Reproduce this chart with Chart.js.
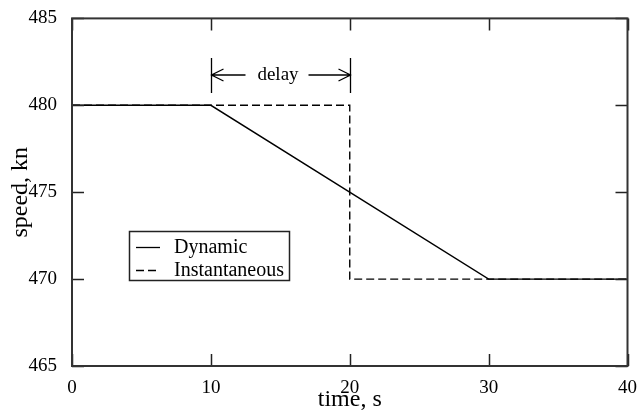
<!DOCTYPE html>
<html>
<head>
  <title>Speed response</title>
  <script src="https://cdn.jsdelivr.net/npm/chart.js"></script>
  <style>
    body { margin: 0; background: #fff; }
  </style>
</head>
<body>
  <div style="width: 640px; height: 414px;">
    <canvas id="speedChart"></canvas>
  </div>

  <script>
    // data
    const dynamicTime = [0, 10, 30, 40];
    const dynamicSpeed = [480, 480, 470, 470];
    const instantTime = [0, 20, 20, 40];
    const instantSpeed = [480, 480, 470, 470];
    const seriesNames = ['Dynamic', 'Instantaneous'];
    const xTicks = [0, 10, 20, 30, 40];
    const yTicks = [465, 470, 475, 480, 485];
    const delayStart = 10;
    const delayEnd = 20;
    const delayText = 'delay';

    const serif = 'Liberation Serif';

    const toPoints = (xs, ys) => xs.map((x, i) => ({ x: x, y: ys[i] }));

    // frame, inward ticks, delay marker and legend box
    const decorations = {
      id: 'decorations',
      afterDatasetsDraw(chart) {
        const ctx = chart.ctx;
        const a = chart.chartArea;
        const xs = chart.scales.x;
        const ys = chart.scales.y;
        ctx.save();

        // ticks on all four sides, pointing in
        ctx.strokeStyle = '#222';
        ctx.lineWidth = 1.5;
        ctx.beginPath();
        xTicks.forEach(v => {
          const px = Math.round(xs.getPixelForValue(v)) + 0.5;
          ctx.moveTo(px, a.bottom); ctx.lineTo(px, a.bottom - 12);
          ctx.moveTo(px, a.top); ctx.lineTo(px, a.top + 12);
        });
        yTicks.forEach(v => {
          const py = Math.round(ys.getPixelForValue(v)) + 0.5;
          ctx.moveTo(a.left, py); ctx.lineTo(a.left + 12, py);
          ctx.moveTo(a.right, py); ctx.lineTo(a.right - 12, py);
        });
        ctx.stroke();

        // frame
        ctx.lineWidth = 2;
        ctx.strokeStyle = '#333';
        ctx.strokeRect(a.left, a.top, a.right - a.left, a.bottom - a.top);

        // delay marker
        const x1 = Math.round(xs.getPixelForValue(delayStart)) + 0.5;
        const x2 = Math.round(xs.getPixelForValue(delayEnd)) + 0.5;
        const yTop = 58, yBot = 93, yMid = 75;
        ctx.strokeStyle = '#000';
        ctx.lineWidth = 1.3;
        ctx.beginPath();
        ctx.moveTo(x1, yTop); ctx.lineTo(x1, yBot);
        ctx.moveTo(x2, yTop); ctx.lineTo(x2, yBot);
        ctx.moveTo(x1, yMid); ctx.lineTo(x1 + 34, yMid);
        ctx.moveTo(x2 - 42, yMid); ctx.lineTo(x2, yMid);
        // arrow heads
        ctx.moveTo(x1 + 12, yMid - 6); ctx.lineTo(x1, yMid); ctx.lineTo(x1 + 12, yMid + 6);
        ctx.moveTo(x2 - 12, yMid - 6); ctx.lineTo(x2, yMid); ctx.lineTo(x2 - 12, yMid + 6);
        ctx.stroke();
        ctx.fillStyle = '#000';
        ctx.font = '19px "' + serif + '"';
        ctx.textAlign = 'center';
        ctx.textBaseline = 'middle';
        ctx.fillText(delayText, (x1 + x2) / 2 - 3, yMid);

        // legend
        const lx = 129.5, ly = 231.5, lw = 160, lh = 49;
        ctx.lineWidth = 1.5;
        ctx.strokeStyle = '#222';
        ctx.strokeRect(lx, ly, lw, lh);
        ctx.textAlign = 'left';
        ctx.font = '20px "' + serif + '"';
        chart.data.datasets.forEach((ds, i) => {
          const yy = 247.5 + i * 23;
          ctx.strokeStyle = '#000';
          ctx.lineWidth = 1.3;
          ctx.setLineDash(ds.borderDash || []);
          ctx.beginPath();
          ctx.moveTo(136, yy); ctx.lineTo(160, yy);
          ctx.stroke();
          ctx.setLineDash([]);
          ctx.fillText(ds.label, 174, yy);
        });
        ctx.restore();
      }
    };

    new Chart(document.getElementById('speedChart'), {
      type: 'line',
      data: {
        datasets: [
          {
            label: seriesNames[0],
            data: toPoints(dynamicTime, dynamicSpeed),
            borderColor: '#000',
            borderWidth: 1.4,
            pointRadius: 0,
            tension: 0
          },
          {
            label: seriesNames[1],
            data: toPoints(instantTime, instantSpeed),
            borderColor: '#000',
            borderWidth: 1.4,
            borderDash: [8, 4],
            pointRadius: 0,
            tension: 0
          }
        ]
      },
      options: {
        responsive: true,
        maintainAspectRatio: false,
        animation: false,
        layout: { padding: { top: 15, right: 9, left: 0, bottom: 0 } },
        plugins: {
          legend: { display: false },
          tooltip: { enabled: false }
        },
        scales: {
          x: {
            type: 'linear',
            min: 0,
            max: 40,
            afterBuildTicks: s => { s.ticks = xTicks.map(v => ({ value: v })); },
            afterFit: s => { s.height = 48; },
            grid: { display: false },
            border: { display: false },
            ticks: {
              color: '#000',
              padding: 3,
              maxRotation: 0,
              font: { family: serif, size: 19 }
            },
            title: {
              display: true,
              text: 'time, s',
              color: '#000',
              padding: { top: 0, bottom: 0 },
              font: { family: serif, size: 24 }
            }
          },
          y: {
            min: 465,
            max: 485,
            afterBuildTicks: s => { s.ticks = yTicks.map(v => ({ value: v })); },
            afterFit: s => { s.width = 72; },
            grid: { display: false },
            border: { display: false },
            ticks: {
              color: '#000',
              padding: 7,
              font: { family: serif, size: 19 }
            },
            title: {
              display: true,
              text: 'speed, kn',
              color: '#000',
              padding: { top: 6, bottom: 0 },
              font: { family: serif, size: 24 }
            }
          }
        }
      },
      plugins: [decorations]
    });
  </script>
</body>
</html>
